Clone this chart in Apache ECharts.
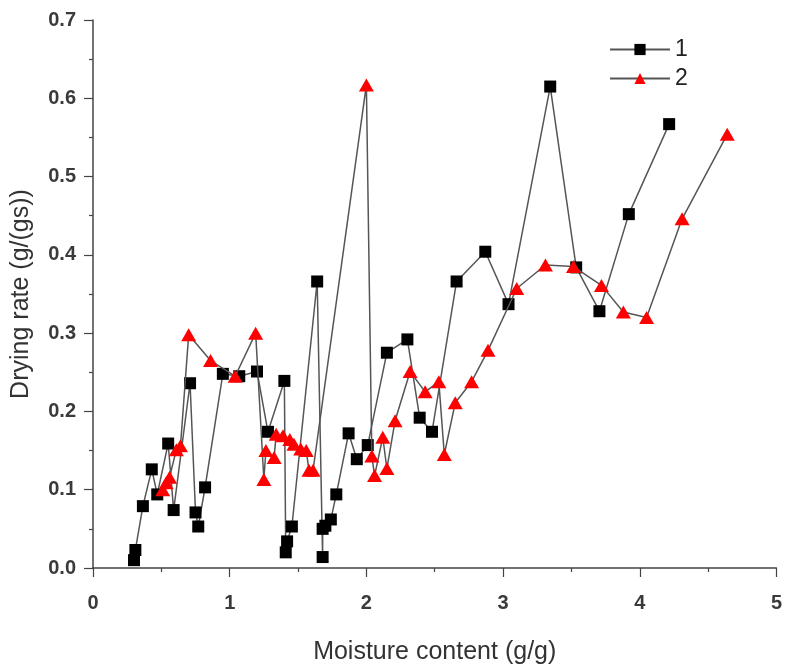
<!DOCTYPE html>
<html>
<head>
<meta charset="utf-8">
<script src="https://cdn.jsdelivr.net/npm/echarts@6/dist/echarts.min.js"></script>
<style>
  html, body { margin: 0; padding: 0; background: #fff; }
  #chart { width: 785px; height: 670px; }
</style>
</head>
<body>
<div id="chart"></div>
<script>
// series 1 (black squares)
const moisture1 = [0.30, 0.31, 0.365, 0.43, 0.47, 0.55, 0.59, 0.71, 0.75, 0.77, 0.82, 0.95, 1.07, 1.20, 1.28, 1.40, 1.41, 1.42, 1.455, 1.64, 1.68, 1.68, 1.70, 1.74, 1.78, 1.87, 1.93, 2.01, 2.15, 2.30, 2.39, 2.48, 2.66, 2.87, 3.04, 3.345, 3.535, 3.705, 3.92, 4.215];
const rate1 = [0.010, 0.023, 0.079, 0.126, 0.094, 0.159, 0.074, 0.236, 0.071, 0.053, 0.103, 0.248, 0.245, 0.251, 0.174, 0.239, 0.020, 0.034, 0.053, 0.366, 0.014, 0.050, 0.054, 0.062, 0.094, 0.172, 0.139, 0.157, 0.275, 0.292, 0.192, 0.174, 0.366, 0.404, 0.337, 0.615, 0.384, 0.328, 0.452, 0.567];

// series 2 (red triangles)
const moisture2 = [0.51, 0.535, 0.56, 0.61, 0.64, 0.70, 0.86, 1.04, 1.19, 1.25, 1.265, 1.325, 1.34, 1.39, 1.44, 1.47, 1.52, 1.56, 1.58, 1.61, 2.00, 2.04, 2.06, 2.12, 2.15, 2.21, 2.32, 2.43, 2.53, 2.57, 2.65, 2.77, 2.89, 3.10, 3.31, 3.515, 3.72, 3.88, 4.05, 4.31, 4.64];
const rate2 = [0.100, 0.109, 0.116, 0.151, 0.156, 0.298, 0.265, 0.245, 0.300, 0.113, 0.150, 0.141, 0.171, 0.169, 0.164, 0.158, 0.152, 0.150, 0.125, 0.125, 0.617, 0.143, 0.118, 0.167, 0.127, 0.188, 0.251, 0.225, 0.238, 0.145, 0.211, 0.238, 0.278, 0.357, 0.387, 0.385, 0.361, 0.327, 0.320, 0.446, 0.554];

const seriesNames = ["1", "2"];

const zip = (xs, ys) => xs.map((x, i) => [x, ys[i]]);

const font = "'Liberation Sans', Arial, sans-serif";
const axisColor = "#444";

const chart = echarts.init(document.getElementById("chart"));

const axisCommon = {
  type: "value",
  nameLocation: "middle",
  nameTextStyle: { fontFamily: font, fontSize: 25, color: "#333" },
  axisLine: { show: true, onZero: false, lineStyle: { color: axisColor, width: 1.5 } },
  axisTick: { show: true, inside: false, length: 9, lineStyle: { color: axisColor, width: 1.2 } },
  minorTick: { show: true, splitNumber: 2, length: 4, lineStyle: { color: axisColor, width: 1.2 } },
  splitLine: { show: false },
  axisLabel: { fontFamily: font, fontSize: 20, fontWeight: "bold", color: "#3a3a3a" },
};

chart.setOption({
  animation: false,
  backgroundColor: "#fff",
  grid: { left: 93, right: 4, top: 20, bottom: 99 },
  legend: {
    orient: "vertical",
    left: 604,
    top: 33,
    itemWidth: 60,
    itemHeight: 14,
    itemGap: 6,
    textStyle: { fontFamily: font, fontSize: 23, color: "#222" },
    data: seriesNames,
  },
  xAxis: Object.assign({}, axisCommon, {
    min: 0,
    max: 5,
    interval: 1,
    name: "Moisture content (g/g)",
    nameGap: 72,
    axisLabel: Object.assign({}, axisCommon.axisLabel, { margin: 25 }),
  }),
  yAxis: Object.assign({}, axisCommon, {
    min: 0,
    max: 0.7,
    interval: 0.1,
    name: "Drying rate (g/(gs))",
    nameGap: 59,
    axisLabel: Object.assign({}, axisCommon.axisLabel, {
      margin: 17,
      formatter: (v) => v.toFixed(1),
    }),
  }),
  series: [
    {
      name: seriesNames[0],
      type: "line",
      data: zip(moisture1, rate1),
      symbol: "rect",
      symbolSize: 12,
      showAllSymbol: true,
      itemStyle: { color: "#000" },
      lineStyle: { color: "#555", width: 1.5 },
      z: 2,
    },
    {
      name: seriesNames[1],
      type: "line",
      data: zip(moisture2, rate2),
      symbol: "triangle",
      symbolSize: [15, 13],
      showAllSymbol: true,
      itemStyle: { color: "#ff0000" },
      lineStyle: { color: "#555", width: 1.5 },
      z: 3,
    },
  ],
});
</script>
</body>
</html>
